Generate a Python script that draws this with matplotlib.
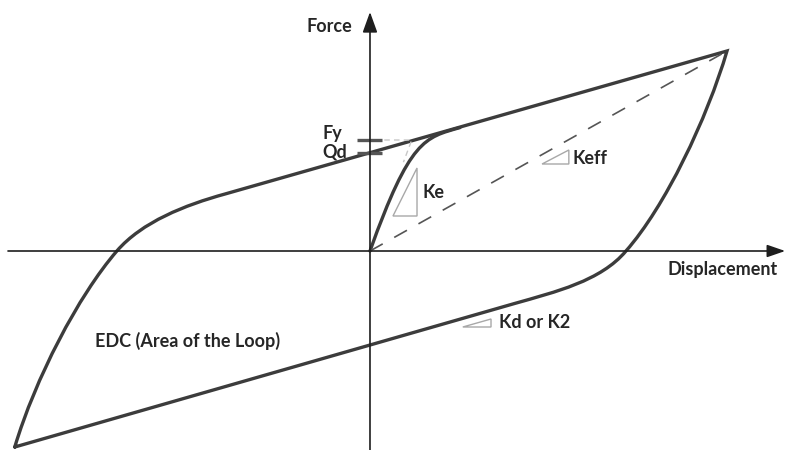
import matplotlib
matplotlib.use("Agg")
import matplotlib.pyplot as plt
from matplotlib.path import Path
from matplotlib.patches import PathPatch, Polygon

plt.rcParams['font.family'] = ['Lato', 'DejaVu Sans']
plt.rcParams['lines.scale_dashes'] = False

# Loop vertices (normalised displacement, normalised force)
peak_pos = (1.0, 1.0)
peak_neg = (-0.995, -0.98)
qd_pos = 0.49          # characteristic strength on the upper branch
qd_neg = -0.47         # intercept of the lower branch
fy = 0.555             # yield force
dy = 0.117             # yield displacement

# Bezier control points for the curved parts of the loop
reload_ctrl = [(-0.938, -0.64), (-0.818, -0.225), (-0.709, 0.0),
               (-0.639, 0.145), (-0.518, 0.23), (-0.406, 0.285)]
unload_ctrl = [(0.944, 0.66), (0.826, 0.22), (0.717, 0.0),
               (0.647, -0.15), (0.518, -0.205), (0.406, -0.262)]
initial_ctrl = [(0.0, 0.0), (0.112, 0.56), (0.154, 0.5675), (0.252, 0.617)]

# Stiffness triangles
tri_ke = [(0.0644, 0.175), (0.1317, 0.175), (0.1317, 0.415)]
tri_keff = [(0.482, 0.435), (0.557, 0.435), (0.557, 0.505)]
tri_kd = [(0.26, -0.38), (0.339, -0.38), (0.339, -0.34)]

loop_color = '#3c3c3c'
text_color = '#262626'

fig = plt.figure(figsize=(7.85, 4.5), dpi=100)
ax = fig.add_axes([0, 0, 1, 1])
ax.set_xlim(-1.0364, 1.1625)
ax.set_ylim(-0.995, 1.255)
ax.axis('off')

# Axes with arrow heads
ax.annotate('', xy=(1.163, 0.0), xytext=(-1.014, 0.0),
            arrowprops=dict(arrowstyle='-|>,head_length=1.1,head_width=0.38',
                            lw=1.2, color='#1e1e1e', shrinkA=0, shrinkB=0))
ax.annotate('', xy=(0.0, 1.195), xytext=(0.0, -0.995),
            arrowprops=dict(arrowstyle='-|>,head_length=1.25,head_width=0.45',
                            lw=1.2, color='#1e1e1e', shrinkA=0, shrinkB=0))

# Hysteresis loop
verts = [peak_neg] + reload_ctrl + [peak_pos] + unload_ctrl + [peak_neg]
codes = ([Path.MOVETO] + [Path.CURVE4] * 6 + [Path.LINETO]
         + [Path.CURVE4] * 6 + [Path.LINETO])
ax.add_patch(PathPatch(Path(verts, codes), fill=False, lw=2.4,
                       ec=loop_color, capstyle='round', joinstyle='miter'))

# Initial loading curve
init_codes = [Path.MOVETO] + [Path.CURVE4] * 3
ax.add_patch(PathPatch(Path(initial_ctrl, init_codes), fill=False, lw=2.4,
                       ec=loop_color, capstyle='round'))

# Effective stiffness secant
ax.plot([0.0, peak_pos[0] * 0.985], [0.0, peak_pos[1] * 0.985], color='#555555',
        lw=1.2, dashes=(10.5, 9.5))

# Bilinear idealisation (yield point)
ax.plot([0.04, dy, dy * 0.8], [fy, fy, fy * 0.8], color='#c8c8c8', lw=1.0,
        dashes=(4, 3))

# Fy and Qd marks on the force axis
for yv in (fy, qd_pos):
    ax.plot([-0.036, 0.034], [yv, yv], color='#555555', lw=2.4,
            solid_capstyle='butt')

# Stiffness triangles
for tri in (tri_ke, tri_keff, tri_kd):
    ax.add_patch(Polygon(tri, closed=True, fill=False, ec='#a8a8a8', lw=1.0))

# Labels
fs = 13
kw = dict(color=text_color, fontsize=fs, fontweight='bold')
ax.text(-0.115, 1.125, 'Force', ha='center', va='center', **kw)
ax.text(-0.132, 0.585, 'Fy', ha='left', va='center', **kw)
ax.text(-0.134, 0.495, 'Qd', ha='left', va='center', **kw)
ax.text(0.148, 0.295, 'Ke', ha='left', va='center', **kw)
ax.text(0.566, 0.465, 'Keff', ha='left', va='center', **kw)
ax.text(0.361, -0.36, 'Kd or K2', ha='left', va='center', **kw)
ax.text(0.832, -0.09, 'Displacement', ha='left', va='center', **kw)
ax.text(-0.77, -0.45, 'EDC (Area of the Loop)', ha='left', va='center', **kw)

fig.savefig('out.png', dpi=100)
